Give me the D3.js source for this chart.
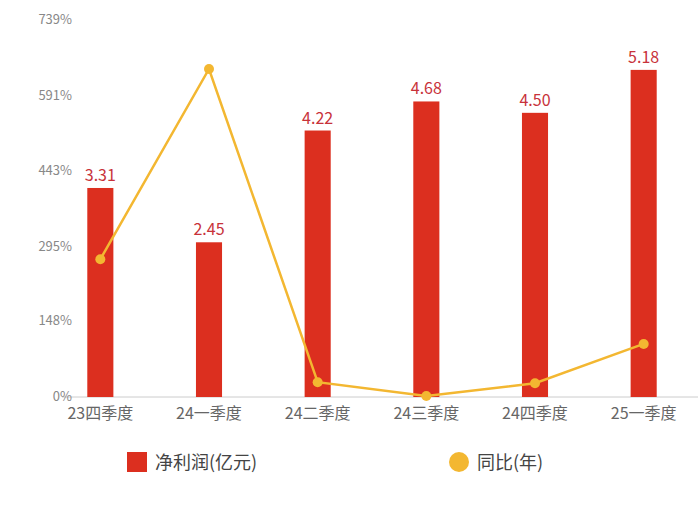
<!DOCTYPE html>
<html><head><meta charset="utf-8">
<script src="https://cdn.jsdelivr.net/npm/d3@7"></script>
<style>body{margin:0;background:#fff;font-family:"Noto Sans CJK SC","Noto Sans",sans-serif}</style>
</head><body><svg id="c" width="700" height="505"></svg>
<script>
var quarters = ['23四季度','24一季度','24二季度','24三季度','24四季度','25一季度']
var profit = [3.31, 2.45, 4.22, 4.68, 4.50, 5.18]
var yoy = [270, 643, 29, 2, 27, 104]
var yTicks = [0, 148, 295, 443, 591, 739]

var svg = d3.select('#c')
var plotTop = 20, plotBottom = 397, plotLeft = 46, plotRight = 698

var x = d3.scaleBand().domain(quarters).range([plotLeft, plotRight]).paddingInner(0.76).paddingOuter(0.38)
var yBar = d3.scaleLinear().domain([0, 5.97]).range([plotBottom, plotTop])
var yLine = d3.scaleLinear().domain([0, 739]).range([plotBottom, plotTop])

svg.append('line').attr('x1', 62).attr('x2', plotRight).attr('y1', plotBottom).attr('y2', plotBottom)
  .attr('stroke', '#ccc')

svg.selectAll('text.yt').data(yTicks).join('text').attr('class', 'yt')
  .attr('x', 72).attr('y', d => yLine(d) + 4).attr('text-anchor', 'end')
  .attr('font-size', 13).attr('fill', '#888').text(d => d + '%')

svg.selectAll('text.xt').data(quarters).join('text').attr('class', 'xt')
  .attr('x', d => x(d) + x.bandwidth() / 2).attr('y', 419).attr('text-anchor', 'middle')
  .attr('font-size', 16).attr('fill', '#666').text(d => d)

svg.selectAll('rect.bar').data(profit).join('rect').attr('class', 'bar')
  .attr('x', (d, i) => x(quarters[i])).attr('width', x.bandwidth())
  .attr('y', d => yBar(d)).attr('height', d => plotBottom - yBar(d)).attr('fill', '#dc2f1f')

svg.selectAll('text.bl').data(profit).join('text').attr('class', 'bl')
  .attr('x', (d, i) => x(quarters[i]) + x.bandwidth() / 2).attr('y', d => yBar(d) - 7)
  .attr('text-anchor', 'middle').attr('font-size', 16).attr('fill', '#c8323a').text(d => d.toFixed(2))

var line = d3.line().x((d, i) => x(quarters[i]) + x.bandwidth() / 2).y(d => yLine(d))
svg.append('path').datum(yoy).attr('d', line).attr('fill', 'none')
  .attr('stroke', '#f3b731').attr('stroke-width', 2.5)
svg.selectAll('circle.pt').data(yoy).join('circle').attr('class', 'pt')
  .attr('cx', (d, i) => x(quarters[i]) + x.bandwidth() / 2).attr('cy', d => yLine(d))
  .attr('r', 5).attr('fill', '#f3b731')

var lg = svg.append('g').attr('font-size', 18).attr('fill', '#444')
lg.append('rect').attr('x', 127).attr('y', 452).attr('width', 20).attr('height', 20).attr('fill', '#dc2f1f')
lg.append('text').attr('x', 155).attr('y', 469).text('净利润(亿元)')
lg.append('circle').attr('cx', 459).attr('cy', 462).attr('r', 10).attr('fill', '#f3b731')
lg.append('text').attr('x', 477).attr('y', 469).text('同比(年)')
</script></body></html>
